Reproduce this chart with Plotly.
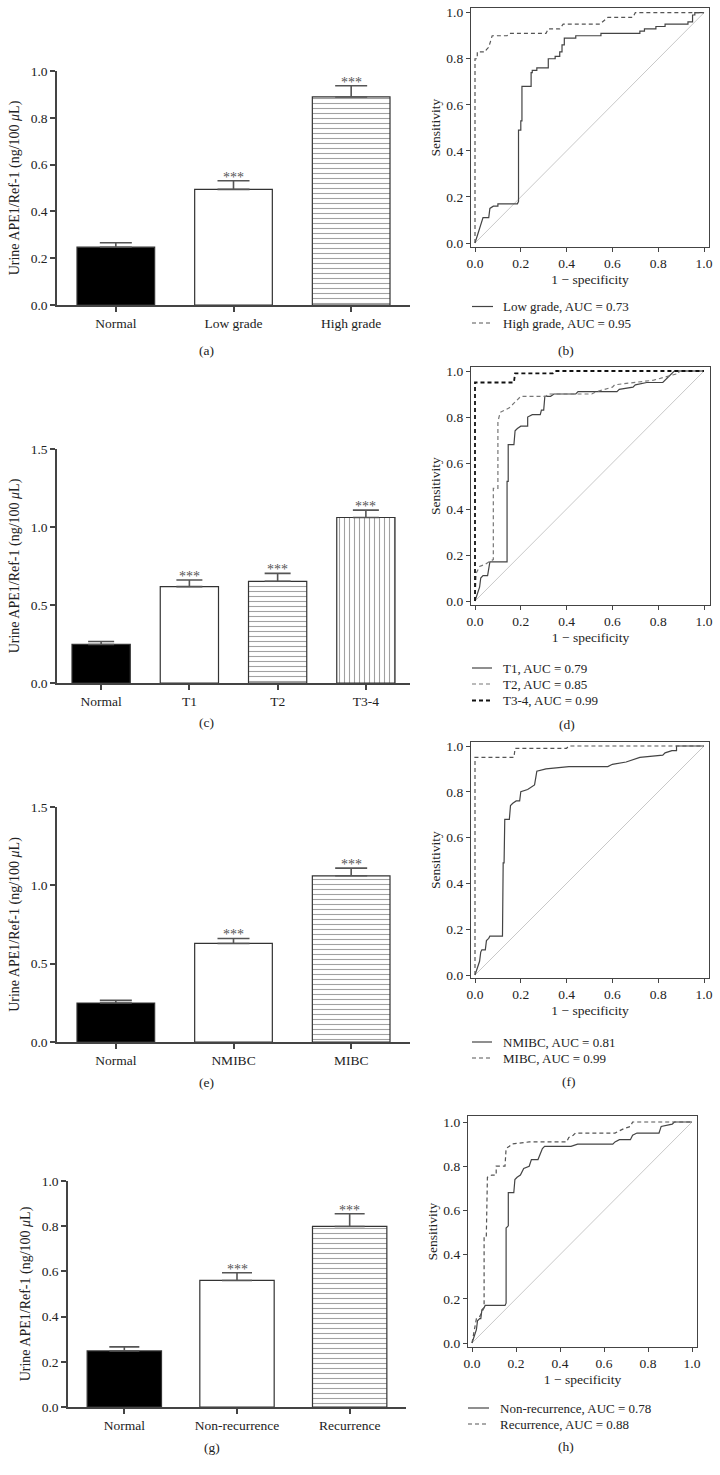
import plotly.graph_objects as go

W, H = 720, 1475
FONT = "Liberation Serif"
TXT = "#222"
AX = "#444"

# ---------------- data ----------------
cats_a = ["Normal", "Low grade", "High grade"]
vals_a = [0.247, 0.494, 0.889]
errs_a = [0.019, 0.037, 0.048]

cats_c = ["Normal", "T1", "T2", "T3-4"]
vals_c = [0.247, 0.618, 0.652, 1.061]
errs_c = [0.019, 0.042, 0.051, 0.047]

cats_e = ["Normal", "NMIBC", "MIBC"]
vals_e = [0.249, 0.629, 1.061]
errs_e = [0.017, 0.032, 0.049]

cats_g = ["Normal", "Non-recurrence", "Recurrence"]
vals_g = [0.248, 0.560, 0.799]
errs_g = [0.018, 0.034, 0.056]

stars_a = ["", "***", "***"]
stars_c = ["", "***", "***", "***"]
stars_e = ["", "***", "***"]
stars_g = ["", "***", "***"]

roc_low_grade = [(0, 0), (0.02, 0.06), (0.03, 0.10), (0.035, 0.11), (0.06, 0.11), (0.065, 0.15),
                 (0.08, 0.16), (0.10, 0.16), (0.10, 0.17), (0.185, 0.17), (0.19, 0.18), (0.19, 0.49),
                 (0.20, 0.49), (0.20, 0.53), (0.205, 0.53), (0.205, 0.68), (0.245, 0.68), (0.245, 0.74),
                 (0.25, 0.74), (0.25, 0.75), (0.27, 0.75), (0.27, 0.76), (0.32, 0.76), (0.32, 0.80),
                 (0.35, 0.80), (0.35, 0.81), (0.37, 0.81), (0.37, 0.83), (0.38, 0.83), (0.38, 0.86),
                 (0.39, 0.86), (0.39, 0.89), (0.44, 0.89), (0.44, 0.90), (0.55, 0.90), (0.55, 0.91),
                 (0.72, 0.91), (0.72, 0.92), (0.74, 0.92), (0.74, 0.93), (0.79, 0.93), (0.79, 0.94),
                 (0.83, 0.94), (0.83, 0.95), (0.93, 0.95), (0.93, 0.96), (0.95, 0.96), (0.95, 0.99),
                 (0.96, 0.99), (0.96, 1.0), (1.0, 1.0)]
roc_high_grade = [(0, 0), (0, 0.80), (0.01, 0.80), (0.01, 0.83), (0.045, 0.83), (0.05, 0.84),
                  (0.06, 0.85), (0.07, 0.89), (0.075, 0.90), (0.14, 0.90), (0.15, 0.91), (0.31, 0.91),
                  (0.32, 0.93), (0.37, 0.93), (0.385, 0.95), (0.545, 0.95), (0.58, 0.98), (0.69, 0.98),
                  (0.70, 1.0), (1.0, 1.0)]

roc_t1 = [(0, 0), (0.02, 0.06), (0.025, 0.10), (0.035, 0.11), (0.055, 0.11), (0.06, 0.15),
          (0.065, 0.17), (0.14, 0.17), (0.14, 0.52), (0.145, 0.52), (0.145, 0.68), (0.17, 0.68),
          (0.175, 0.74), (0.185, 0.75), (0.20, 0.76), (0.23, 0.76), (0.23, 0.80), (0.25, 0.81),
          (0.285, 0.81), (0.29, 0.83), (0.30, 0.83), (0.305, 0.89), (0.33, 0.89), (0.345, 0.90),
          (0.44, 0.90), (0.45, 0.91), (0.62, 0.91), (0.63, 0.92), (0.69, 0.93), (0.70, 0.94),
          (0.75, 0.95), (0.82, 0.95), (0.83, 0.96), (0.86, 0.99), (0.87, 1.0), (1.0, 1.0)]
roc_t2 = [(0, 0), (0.005, 0.12), (0.02, 0.15), (0.045, 0.16), (0.06, 0.17), (0.08, 0.18),
          (0.08, 0.49), (0.10, 0.49), (0.10, 0.78), (0.11, 0.82), (0.13, 0.83), (0.15, 0.84),
          (0.17, 0.86), (0.20, 0.89), (0.31, 0.89), (0.32, 0.90), (0.51, 0.90), (0.53, 0.91),
          (0.60, 0.93), (0.61, 0.94), (0.78, 0.96), (0.82, 0.97), (0.85, 0.98), (0.89, 0.99),
          (0.89, 1.0), (1.0, 1.0)]
roc_t34 = [(0, 0), (0, 0.95), (0.17, 0.95), (0.175, 0.99), (0.34, 0.99), (0.35, 1.0), (1.0, 1.0)]

roc_nmibc = [(0, 0), (0.02, 0.06), (0.025, 0.10), (0.03, 0.11), (0.045, 0.11), (0.05, 0.15),
             (0.06, 0.16), (0.065, 0.17), (0.12, 0.17), (0.12, 0.18), (0.123, 0.49), (0.127, 0.49),
             (0.127, 0.53), (0.13, 0.53), (0.13, 0.68), (0.15, 0.68), (0.155, 0.74), (0.165, 0.75),
             (0.18, 0.76), (0.195, 0.76), (0.20, 0.80), (0.23, 0.81), (0.26, 0.83), (0.265, 0.86),
             (0.27, 0.89), (0.31, 0.90), (0.41, 0.91), (0.58, 0.91), (0.60, 0.92), (0.66, 0.93),
             (0.69, 0.94), (0.72, 0.95), (0.82, 0.96), (0.83, 0.97), (0.86, 0.98), (0.88, 0.98),
             (0.88, 1.0), (1.0, 1.0)]
roc_mibc = [(0, 0), (0, 0.95), (0.17, 0.95), (0.175, 0.99), (0.40, 0.99), (0.41, 1.0), (1.0, 1.0)]

roc_nonrec = [(0, 0), (0.02, 0.06), (0.025, 0.10), (0.035, 0.11), (0.04, 0.11), (0.045, 0.15),
              (0.055, 0.16), (0.06, 0.17), (0.15, 0.17), (0.155, 0.18), (0.155, 0.52), (0.165, 0.53),
              (0.165, 0.68), (0.19, 0.68), (0.195, 0.74), (0.205, 0.75), (0.22, 0.76), (0.235, 0.79),
              (0.26, 0.80), (0.27, 0.83), (0.30, 0.83), (0.31, 0.86), (0.32, 0.88), (0.33, 0.89),
              (0.45, 0.89), (0.48, 0.90), (0.64, 0.90), (0.65, 0.91), (0.67, 0.92), (0.72, 0.92),
              (0.73, 0.94), (0.75, 0.95), (0.85, 0.95), (0.86, 0.98), (0.91, 0.99), (0.92, 1.0),
              (1.0, 1.0)]
roc_rec = [(0, 0), (0.01, 0.06), (0.02, 0.11), (0.035, 0.12), (0.05, 0.15), (0.055, 0.16),
           (0.055, 0.48), (0.065, 0.48), (0.07, 0.75), (0.09, 0.76), (0.11, 0.76), (0.11, 0.80),
           (0.15, 0.80), (0.155, 0.88), (0.17, 0.89), (0.18, 0.90), (0.26, 0.91), (0.43, 0.91),
           (0.44, 0.93), (0.46, 0.94), (0.47, 0.95), (0.65, 0.95), (0.69, 0.97), (0.72, 0.98),
           (0.73, 1.0), (1.0, 1.0)]

diag = [0, 1]

# ---------------- helpers ----------------
def xdom(p0, p1):
    return [p0 / W, p1 / W]

def ydom(top, bot):
    return [1 - bot / H, 1 - top / H]

def px_x(p):
    return p / W

def px_y(p):
    return 1 - p / H

def axnames(idx):
    if idx == 1:
        return "x", "y", ""
    return "x%d" % idx, "y%d" % idx, str(idx)

fig = go.Figure()
layout = {}
annotations = []
shapes = []

YTITLE = "Urine APE1/Ref-1 (ng/100 <i>μ</i>L)"
TICKSIZE = 13.5


def caption_ann(text, pos):
    annotations.append(dict(x=px_x(pos[0]), y=px_y(pos[1]), xref="paper", yref="paper",
                            text=text, showarrow=False, xanchor="center", yanchor="middle",
                            font=dict(family=FONT, size=13.5, color=TXT)))


def bar_panel(idx, cats, vals, errs, stars, xpx, ypx, yr, dt, capw, caption, cappos):
    xa, ya, k = axnames(idx)
    n = len(cats)
    colors = ["#000000"] + ["#ffffff"] * (n - 1)
    shapes_p = [""] * n
    shapes_p[2] = "-"
    if n == 4:
        shapes_p[3] = "|"
    fig.add_trace(go.Bar(
        x=cats, y=vals, xaxis=xa, yaxis=ya, width=0.66,
        marker=dict(color=colors, line=dict(color="#333", width=1.2),
                    pattern=dict(shape=shapes_p, fgcolor="#9a9a9a", size=5, solidity=0.22,
                                 fillmode="overlay")),
        error_y=dict(type="data", array=errs, arrayminus=[0] * n, symmetric=False,
                     color="#555", thickness=1.6, width=capw),
        showlegend=False, hoverinfo="x+y"))
    layout["xaxis" + k] = dict(
        domain=xdom(*xpx), anchor=ya, type="category", range=[-0.5, n - 0.5],
        showline=True, linecolor=AX, linewidth=1.5, ticks="outside", ticklen=5,
        tickcolor=AX, tickwidth=1.5, showgrid=False, zeroline=False,
        tickfont=dict(family=FONT, size=TICKSIZE, color=TXT))
    layout["yaxis" + k] = dict(
        domain=ydom(*ypx), anchor=xa, range=yr, dtick=dt, tickformat=".1f",
        showline=True, linecolor=AX, linewidth=1.5, ticks="outside", ticklen=5,
        tickcolor=AX, tickwidth=1.5, showgrid=False, zeroline=False,
        tickfont=dict(family=FONT, size=TICKSIZE, color=TXT),
        title=dict(text=YTITLE, font=dict(family=FONT, size=14, color=TXT), standoff=8))
    shapes.append(dict(type="line", xref=xa + " domain", yref=ya, x0=-5 / (xpx[1] - xpx[0]), x1=0,
                       y0=0, y1=0, line=dict(color=AX, width=1.5)))
    for c, v, e, s in zip(cats, vals, errs, stars):
        if s:
            annotations.append(dict(x=c, y=v + e, xref=xa, yref=ya, text=s, showarrow=False,
                                    yanchor="bottom", yshift=-6,
                                    font=dict(family=FONT, size=14, color="#555")))
    caption_ann(caption, cappos)


def roc_panel(idx, curves, box, data_px, legend_x, legend_rows, caption, cappos):
    xa, ya, k = axnames(idx)
    (bx0, bx1, by0, by1) = box
    (dx0, dx1, dy1, dy0) = data_px
    fig.add_trace(go.Scatter(x=diag, y=diag, xaxis=xa, yaxis=ya, mode="lines",
                             line=dict(color="#c8c8c8", width=1), showlegend=False,
                             hoverinfo="skip"))
    for name, pts, color, dash, wdt in curves:
        fig.add_trace(go.Scatter(
            x=[p[0] for p in pts], y=[p[1] for p in pts], xaxis=xa, yaxis=ya,
            mode="lines", name=name, showlegend=False,
            line=dict(color=color, width=wdt, dash=dash)))
    xr = [(bx0 - dx0) / (dx1 - dx0), (bx1 - dx0) / (dx1 - dx0)]
    yr_ = [(dy0 - by1) / (dy0 - dy1), (dy0 - by0) / (dy0 - dy1)]
    ax_common = dict(showline=True, mirror=True, linecolor=AX, linewidth=1.2,
                     ticks="outside", ticklen=4, tickcolor=AX, tickwidth=1.2,
                     showgrid=False, zeroline=False, dtick=0.2, tick0=0, tickformat=".1f",
                     tickfont=dict(family=FONT, size=TICKSIZE, color=TXT))
    layout["xaxis" + k] = dict(domain=xdom(bx0, bx1), anchor=ya, range=xr,
                               title=dict(text="1 − specificity", standoff=4,
                                          font=dict(family=FONT, size=13.5, color=TXT)),
                               **ax_common)
    layout["yaxis" + k] = dict(domain=ydom(by0, by1), anchor=xa, range=yr_,
                               title=dict(text="Sensitivity", standoff=2,
                                          font=dict(family=FONT, size=13.5, color=TXT)),
                               **ax_common)
    lx0, lx1, tx = legend_x
    for (name, pts, color, dash, wdt), ry in zip(curves, legend_rows):
        shapes.append(dict(type="line", xref="paper", yref="paper",
                           x0=px_x(lx0), x1=px_x(lx1), y0=px_y(ry), y1=px_y(ry),
                           line=dict(color=color, width=wdt, dash=dash)))
        annotations.append(dict(x=px_x(tx), y=px_y(ry), xref="paper", yref="paper",
                                text=name, showarrow=False, xanchor="left", yanchor="middle",
                                font=dict(family=FONT, size=13, color=TXT)))
    caption_ann(caption, cappos)


DASH = "4px,3px"

bar_panel(1, cats_a, vals_a, errs_a, stars_a, (57, 410), (71, 305), [0, 1.0], 0.2, 16, "(a)", (207, 350))
roc_panel(2, [("Low grade, AUC = 0.73", roc_low_grade, "#444", "solid", 1.2),
              ("High grade, AUC = 0.95", roc_high_grade, "#555", DASH, 1.2)],
          (471, 709, 8, 247), (475, 704, 12.7, 243), (472, 493, 501), (306.5, 323), "(b)", (566, 350))

bar_panel(3, cats_c, vals_c, errs_c, stars_c, (57, 410), (449, 683), [0, 1.5], 0.5, 13, "(c)", (207, 722))
roc_panel(4, [("T1, AUC = 0.79", roc_t1, "#444", "solid", 1.2),
              ("T2, AUC = 0.85", roc_t2, "#777", DASH, 1.2),
              ("T3-4, AUC = 0.99", roc_t34, "#111", DASH, 1.8)],
          (471, 710, 367, 605), (475, 704, 371, 601), (472, 492, 501), (668, 684, 700.5), "(d)", (567, 724))

bar_panel(5, cats_e, vals_e, errs_e, stars_e, (57, 410), (807, 1042), [0, 1.5], 0.5, 16, "(e)", (207, 1082))
roc_panel(6, [("NMIBC, AUC = 0.81", roc_nmibc, "#444", "solid", 1.2),
              ("MIBC, AUC = 0.99", roc_mibc, "#555", DASH, 1.2)],
          (471, 709, 742, 978), (475, 704, 746, 975), (472, 492, 501), (1042, 1058), "(f)", (569, 1081))

bar_panel(7, cats_g, vals_g, errs_g, stars_g, (68, 406), (1181, 1407), [0, 1.0], 0.2, 15, "(g)", (212, 1447))
roc_panel(8, [("Non-recurrence, AUC = 0.78", roc_nonrec, "#444", "solid", 1.2),
              ("Recurrence, AUC = 0.88", roc_rec, "#555", DASH, 1.2)],
          (468, 697, 1116, 1347), (472, 692, 1122, 1343), (468, 489, 498), (1408, 1424), "(h)", (566, 1446))

fig.update_layout(
    width=W, height=H, margin=dict(l=0, r=0, t=0, b=0, autoexpand=False),
    paper_bgcolor="white", plot_bgcolor="white",
    font=dict(family=FONT, size=13, color=TXT), showlegend=False,
    annotations=annotations, shapes=shapes, bargap=0.34,
    **layout)

fig.write_html("out.html", config={"displayModeBar": False},
               post_script="document.body.style.margin='0';document.body.style.padding='0';"
                           "document.body.style.overflow='hidden';")
